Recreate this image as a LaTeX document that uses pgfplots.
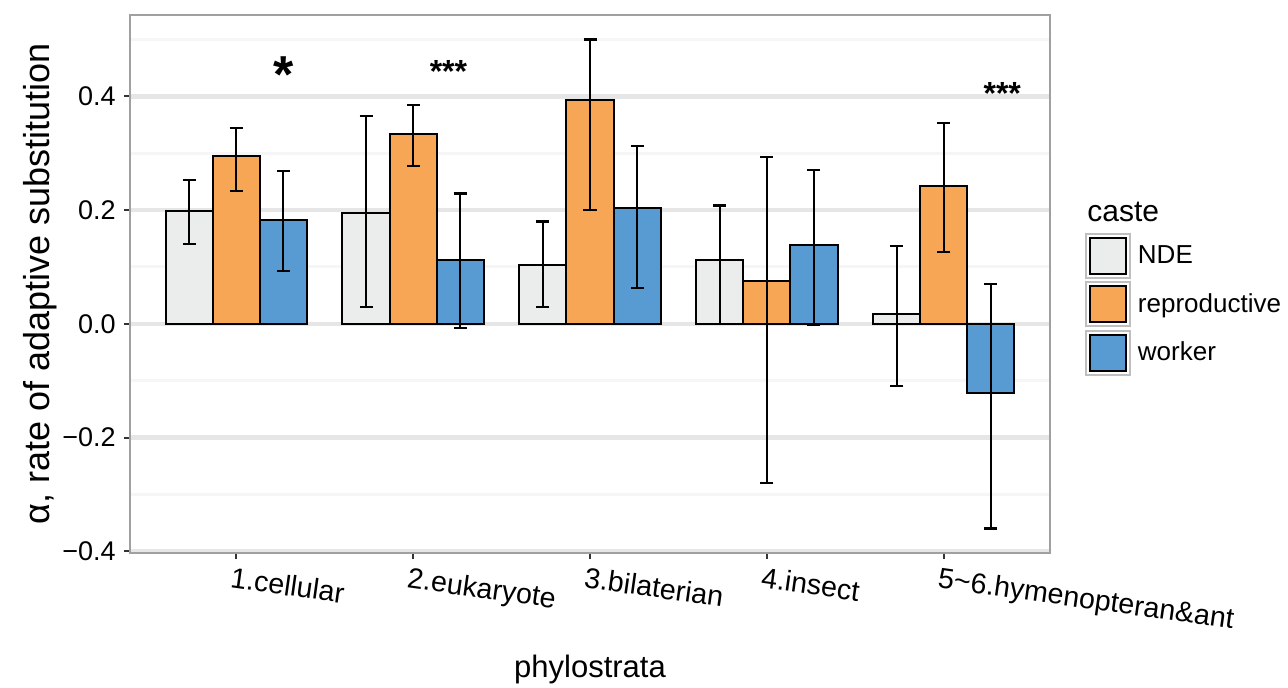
\documentclass[border=0pt]{standalone}
\usepackage{pgfplots}
\pgfplotsset{compat=1.18}
\usepackage{pgfplotstable}
\usepackage{fontspec}
\setmainfont{Liberation Sans}
\definecolor{ndecol}{RGB}{235,237,236}
\definecolor{repcol}{RGB}{246,166,84}
\definecolor{wkcol}{RGB}{88,155,211}
\definecolor{majgrid}{RGB}{230,230,230}
\definecolor{mingrid}{RGB}{246,246,246}
\definecolor{border}{RGB}{160,160,160}

% x = category position with dodge offset already applied
\pgfplotstableread{
x y ep em
-0.266 0.198 0.055 0.058
0.734 0.194 0.171 0.164
1.734 0.104 0.076 0.074
2.734 0.113 0.095 0.113
3.734 0.017 0.120 0.127
}\nde
\pgfplotstableread{
x y ep em
0 0.295 0.050 0.062
1 0.333 0.052 0.056
2 0.394 0.106 0.194
3 0.075 0.218 0.355
4 0.243 0.110 0.117
}\rep
\pgfplotstableread{
x y ep em
0.266 0.183 0.085 0.090
1.266 0.112 0.117 0.120
2.266 0.203 0.110 0.140
3.266 0.138 0.132 0.140
4.266 -0.122 0.192 0.238
}\wk

\begin{document}
\begin{tikzpicture}
\begin{axis}[
  scale only axis, width=460bp, height=269bp,
  xmin=-0.6, xmax=4.6, ymin=-0.403, ymax=0.543,
  axis line style={draw=border, line width=1bp},
  xtick={0,1,2,3,4},
  xticklabels={1.cellular,2.eukaryote,3.bilaterian,4.insect,5\textasciitilde6.hymenopteran\&ant},
  ytick={-0.4,-0.2,0,0.2,0.4},
  yticklabels={−0.4,−0.2,0.0,0.2,0.4},
  minor ytick={-0.3,-0.1,0.1,0.3,0.5},
  ymajorgrids, yminorgrids,
  major grid style={draw=majgrid, line width=2.2bp},
  minor grid style={draw=mingrid, line width=1.5bp},
  tick align=outside, tick pos=left,
  major tick length=3bp, minor tick length=0pt,
  tick style={draw=black!80, line width=1bp},
  yticklabel style={font=\fontsize{13.5bp}{16bp}\selectfont, inner sep=0pt, xshift=-4bp},
  xticklabel style={font=\fontsize{14.3bp}{17bp}\selectfont, rotate=-8, anchor=north west, xshift=-2.5bp, yshift=-3bp, inner sep=1bp},
  xlabel={phylostrata},
  xlabel style={font=\fontsize{15.5bp}{18bp}\selectfont, at={(axis description cs:0.5,0)}, anchor=base, yshift=-62bp},
  ylabel={α, rate of adaptive substitution},
  ylabel style={font=\fontsize{18bp}{21bp}\selectfont, at={(axis description cs:-0.087,0.5)}, anchor=base},
  legend style={name=leg, at={(rel axis cs:1.038,0.595)}, anchor=north west, draw=none, fill=none,
     inner sep=0pt, outer sep=0pt, row sep=1.25bp, column sep=3.5bp,
     nodes={inner sep=0pt, anchor=west}, font=\fontsize{13bp}{15bp}\selectfont},
  legend cell align=left,
  legend image code/.code={
     \draw[fill=white, draw=black!25, line width=1bp] (0bp,-11bp) rectangle (22bp,11bp);
     \draw[line width=1bp] (2bp,-9bp) rectangle (20bp,9bp);
  },
  error bars/error bar style={line width=1.1bp, black},
  error bars/error mark options={rotate=90, mark size=3.25bp, line width=1.1bp, black},
  clip=false,
]
\addplot[ybar, bar width=0.266, bar shift=0, fill=ndecol, draw=black, line width=1bp,
  error bars/.cd, y dir=both, y explicit]
  table[x=x, y=y, y error plus=ep, y error minus=em]{\nde};
\addlegendentry{NDE}
\addplot[ybar, bar width=0.266, bar shift=0, fill=repcol, draw=black, line width=1bp,
  error bars/.cd, y dir=both, y explicit]
  table[x=x, y=y, y error plus=ep, y error minus=em]{\rep};
\addlegendentry{reproductive}
\addplot[ybar, bar width=0.266, bar shift=0, fill=wkcol, draw=black, line width=1bp,
  error bars/.cd, y dir=both, y explicit]
  table[x=x, y=y, y error plus=ep, y error minus=em]{\wk};
\addlegendentry{worker}
\node[anchor=base, font=\fontsize{26bp}{30bp}\selectfont\bfseries] at (axis cs:0.266,0.407) {*};
\node[anchor=base, font=\fontsize{16bp}{18bp}\selectfont\bfseries] at (axis cs:1.2,0.425) {***};
\node[anchor=base, font=\fontsize{16bp}{18bp}\selectfont\bfseries] at (axis cs:4.33,0.386) {***};
\end{axis}
\node[anchor=base west, font=\fontsize{15bp}{18bp}\selectfont, inner sep=0pt] at ([xshift=1bp, yshift=5.5bp]leg.north west) {caste};
\pgfresetboundingbox
\path[use as bounding box] (-65bp,-67.5bp) rectangle (579bp,276.5bp);
\end{tikzpicture}
\end{document}
